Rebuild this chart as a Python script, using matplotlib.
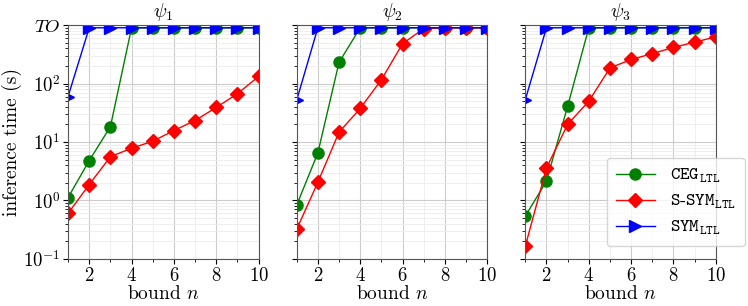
import numpy as np
import matplotlib
matplotlib.use('Agg')
import matplotlib.pyplot as plt
from matplotlib.ticker import MultipleLocator

plt.rcParams['font.family'] = 'serif'
plt.rcParams['font.serif'] = ['cmr10']
plt.rcParams['mathtext.fontset'] = 'cm'
plt.rcParams['axes.formatter.use_mathtext'] = True

# timeout value used for runs that did not finish
TO = 900

bounds = np.arange(1, 11)
titles = [r'$\psi_1$', r'$\psi_2$', r'$\psi_3$']

# inference time (s) per bound n, one list per formula
ceg = [
    [1.12, 4.8, 18.3, TO, TO, TO, TO, TO, TO, TO],
    [0.83, 6.5, 230, TO, TO, TO, TO, TO, TO, TO],
    [0.54, 2.14, 41, TO, TO, TO, TO, TO, TO, TO],
]
ssym = [
    [0.6, 1.87, 5.6, 7.8, 10.3, 15.7, 23.3, 39, 67, 132],
    [0.32, 2.05, 14.7, 37.5, 116, 480, 870, TO, TO, TO],
    [0.165, 3.6, 20, 50, 185, 258, 325, 415, 510, 630],
]
sym = [
    [60, TO, TO, TO, TO, TO, TO, TO, TO, TO],
    [52, TO, TO, TO, TO, TO, TO, TO, TO, TO],
    [53, TO, TO, TO, TO, TO, TO, TO, TO, TO],
]

fig, axes = plt.subplots(1, 3, figsize=(7.48, 3.06), dpi=100, sharey=True)
fig.subplots_adjust(left=0.091, right=0.957, top=0.918, bottom=0.154, wspace=0.2)

for i, ax in enumerate(axes):
    ax.plot(bounds, ceg[i], color='green', marker='o', markersize=8, lw=1,
            label=r'$\mathtt{CEG}_{\mathtt{LTL}}$')
    ax.plot(bounds, ssym[i], color='red', marker='D', markersize=7, lw=1,
            label=r'$\mathtt{S}$-$\mathtt{SYM}_{\mathtt{LTL}}$')
    ax.plot(bounds, sym[i], color='blue', marker='>', markersize=8, lw=1,
            label=r'$\mathtt{SYM}_{\mathtt{LTL}}$')
    ax.set_yscale('log')
    ax.set_ylim(0.1, 1000)
    ax.set_xlim(1, 10)
    ax.xaxis.set_major_locator(MultipleLocator(2))
    ax.xaxis.set_minor_locator(MultipleLocator(1))
    ax.grid(True, which='major', color='#cccccc', lw=0.8)
    ax.grid(True, which='minor', color='#ececec', lw=0.6)
    ax.set_axisbelow(True)
    ax.set_title(titles[i], fontsize=14, pad=6)
    ax.set_xlabel(r'bound $n$', fontsize=14, labelpad=0)
    ax.tick_params(labelsize=13.5, pad=2)
    for s in ax.spines.values():
        s.set_color('#555555')

axes[0].set_yticks([0.1, 1, 10, 100, 1000])
axes[0].set_yticklabels([r'$10^{-1}$', r'$10^{0}$', r'$10^{1}$', r'$10^{2}$', r'$TO$'])
axes[0].set_ylabel('inference time (s)', fontsize=14, labelpad=1)

axes[2].legend(loc='lower right', bbox_to_anchor=(1.2, 0.015), fontsize=13,
               handlelength=2.2, borderpad=0.5, labelspacing=0.45)

fig.savefig('out.png', dpi=100)
